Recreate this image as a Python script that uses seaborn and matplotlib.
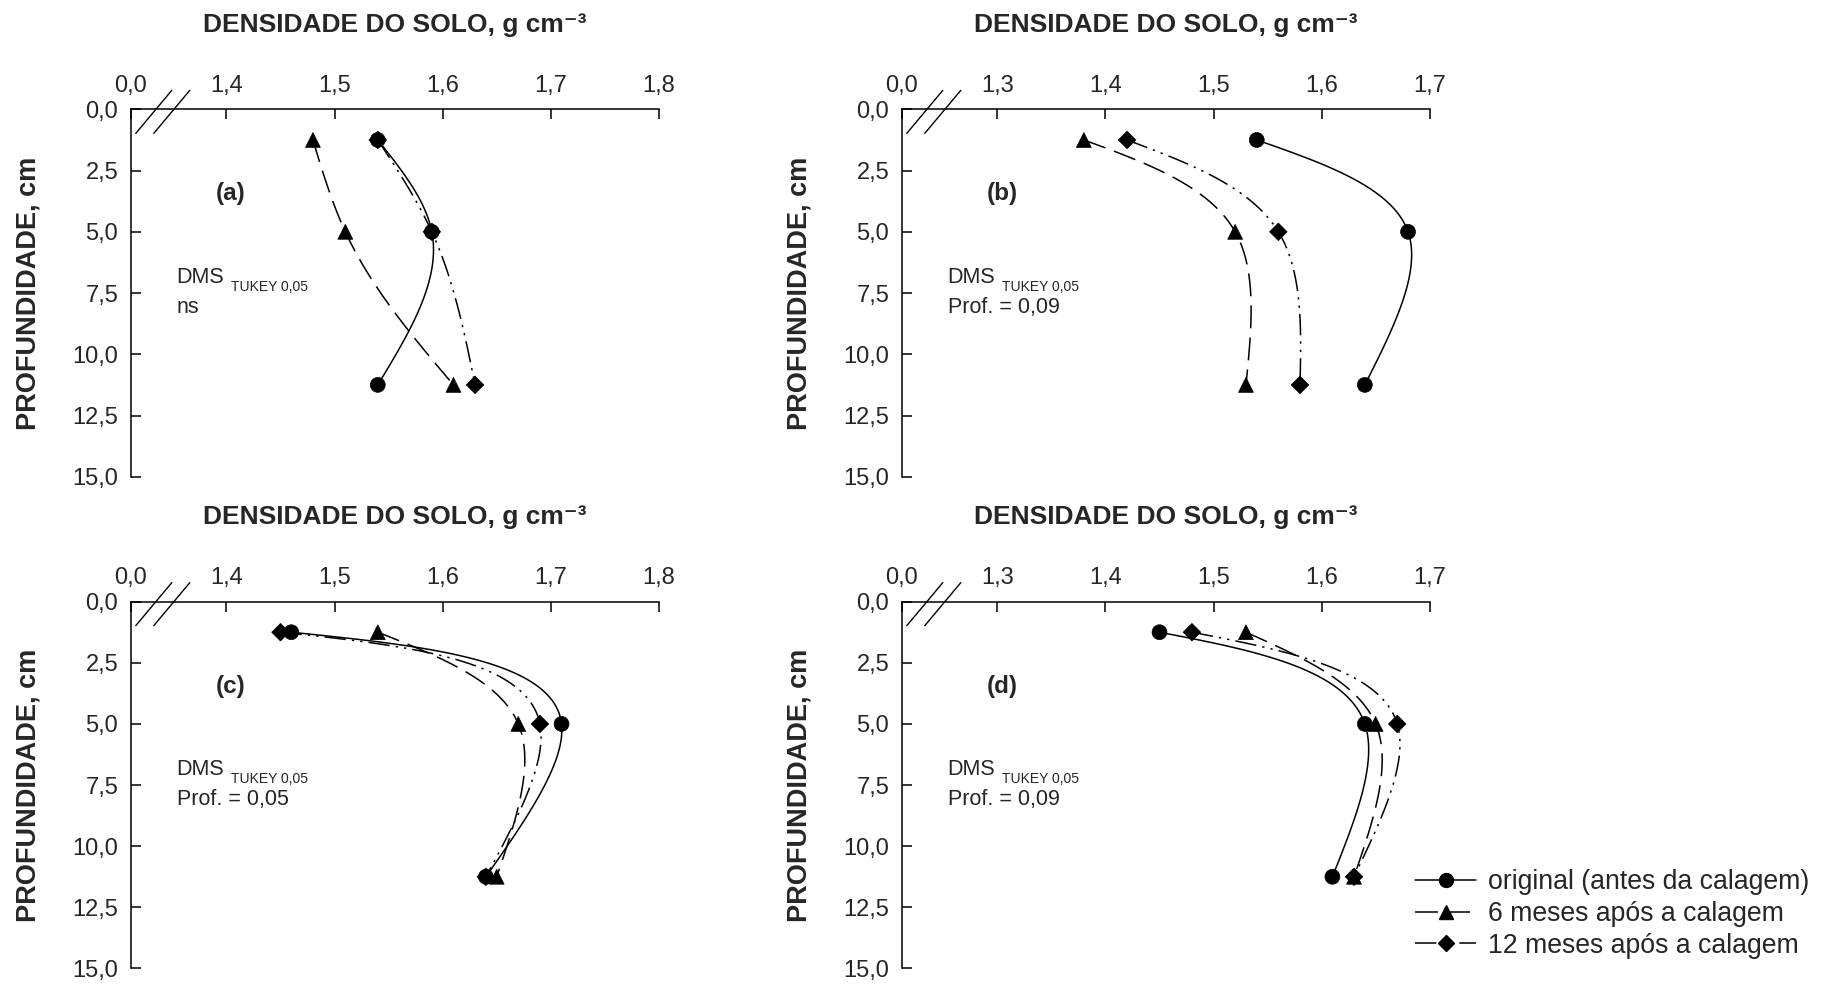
import numpy as np
import pandas as pd
import matplotlib
matplotlib.use("Agg")
import matplotlib.pyplot as plt
import seaborn as sns
from matplotlib.lines import Line2D

# profundidade (cm), centro das camadas
depth = [1.25, 5.0, 11.25]

series = ["original (antes da calagem)", "6 meses após a calagem", "12 meses após a calagem"]

# densidade do solo, g cm-3
a_orig = [1.54, 1.59, 1.54]
a_6m = [1.48, 1.51, 1.61]
a_12m = [1.54, 1.59, 1.63]

b_orig = [1.54, 1.68, 1.64]
b_6m = [1.38, 1.52, 1.53]
b_12m = [1.42, 1.56, 1.58]

c_orig = [1.46, 1.71, 1.64]
c_6m = [1.54, 1.67, 1.65]
c_12m = [1.45, 1.69, 1.64]

d_orig = [1.45, 1.64, 1.61]
d_6m = [1.53, 1.65, 1.63]
d_12m = [1.48, 1.67, 1.63]

xticks_ac = [1.4, 1.5, 1.6, 1.7, 1.8]
xticks_bd = [1.3, 1.4, 1.5, 1.6, 1.7]
yticks = [0, 2.5, 5, 7.5, 10, 12.5, 15]
panel_names = ["(a)", "(b)", "(c)", "(d)"]
dms_notes = ["ns", "Prof. = 0,09", "Prof. = 0,05", "Prof. = 0,09"]

sns.set_style("ticks")
plt.rcParams["font.family"] = ["Liberation Sans", "DejaVu Sans"]

styles = {
    series[0]: dict(marker="o", ls="-", ms=10),
    series[1]: dict(marker="^", ls=(0, (15, 6)), ms=10),
    series[2]: dict(marker="D", ls=(0, (14, 4, 1.5, 4, 1.5, 4)), ms=8),
}


def natural_spline(t, v, n=60):
    # natural cubic spline of v over parameter t, evaluated densely on each segment
    h = np.diff(t)
    k = len(t)
    A = np.zeros((k, k))
    r = np.zeros(k)
    A[0, 0] = A[-1, -1] = 1
    for i in range(1, k - 1):
        A[i, i - 1] = h[i - 1]
        A[i, i] = 2 * (h[i - 1] + h[i])
        A[i, i + 1] = h[i]
        r[i] = 6 * ((v[i + 1] - v[i]) / h[i] - (v[i] - v[i - 1]) / h[i - 1])
    M = np.linalg.solve(A, r)
    out = []
    for i in range(k - 1):
        tt = np.linspace(t[i], t[i + 1], n)
        a = t[i + 1] - tt
        b = tt - t[i]
        out.append((M[i] * a**3 + M[i + 1] * b**3) / (6 * h[i])
                   + (v[i] / h[i] - M[i] * h[i] / 6) * a
                   + (v[i + 1] / h[i] - M[i + 1] * h[i] / 6) * b)
    return np.concatenate(out)


def spline_line(ax, xv, yv):
    # parametric spline through the points in screen space (SigmaPlot-like spline line)
    pts = ax.transData.transform(np.column_stack([xv, yv]))
    t = np.concatenate([[0], np.cumsum(np.hypot(*np.diff(pts, axis=0).T))])
    sx = natural_spline(t, pts[:, 0])
    sy = natural_spline(t, pts[:, 1])
    curve = ax.transData.inverted().transform(np.column_stack([sx, sy]))
    return curve[:, 0], curve[:, 1]


fig = plt.figure(figsize=(18.24, 9.86), dpi=100)
positions = [
    [0.0717, 0.5165, 0.2895, 0.3726],
    [0.4944, 0.5165, 0.2894, 0.3726],
    [0.0717, 0.0178, 0.2895, 0.3720],
    [0.4944, 0.0178, 0.2894, 0.3720],
]
panels = [
    (a_orig, a_6m, a_12m, xticks_ac),
    (b_orig, b_6m, b_12m, xticks_bd),
    (c_orig, c_6m, c_12m, xticks_ac),
    (d_orig, d_6m, d_12m, xticks_bd),
]

for i, (pos, (o, m6, m12, xt)) in enumerate(zip(positions, panels)):
    ax = fig.add_axes(pos)
    xmin = xt[0] - 0.0885
    ax.set_xlim(xmin, xt[-1])
    ax.set_ylim(15, 0)

    df = pd.DataFrame({
        "dens": o + m6 + m12,
        "prof": depth * 3,
        "serie": [series[0]] * 3 + [series[1]] * 3 + [series[2]] * 3,
    })
    # smooth lines
    for s in series[::-1]:
        sub = df[df["serie"] == s]
        xs, ys = spline_line(ax, sub["dens"].values, sub["prof"].values)
        ax.plot(xs, ys, color="black", lw=1.1, ls=styles[s]["ls"], zorder=2)
    # markers
    sns.scatterplot(data=df.iloc[::-1], x="dens", y="prof", style="serie",
                    markers={s: styles[s]["marker"] for s in series},
                    size="serie", sizes={series[0]: 115, series[1]: 115, series[2]: 80},
                    color="black", edgecolor="black", linewidth=0.5,
                    legend=False, ax=ax, zorder=3)
    ax.set_xlim(xmin, xt[-1])
    ax.set_ylim(15, 0)

    ax.set_xticks([xmin] + xt)
    ax.set_xticklabels(["0,0"] + [f"{v:.1f}".replace(".", ",") for v in xt])
    ax.set_yticks(yticks)
    ax.set_yticklabels([f"{v:.1f}".replace(".", ",") for v in yticks])
    ax.xaxis.tick_top()
    ax.tick_params(axis="both", direction="in", length=7, width=1.1,
                   labelsize=17, pad=9, color="black")
    for sp in ["bottom", "right"]:
        ax.spines[sp].set_visible(False)
    for sp in ["top", "left"]:
        ax.spines[sp].set_linewidth(1.1)
        ax.spines[sp].set_color("black")
    ax.set_xlabel("")
    ax.set_ylabel("PROFUNDIDADE, cm", fontsize=19.5, fontweight="bold")
    ax.yaxis.set_label_coords(-0.17, 0.5)

    # axis break marks
    w = pos[2] * 1824
    hgt = pos[3] * 986
    for off in [0, 18]:
        ax.plot([(5 + off) / w, (41 + off) / w], [1 - 24 / hgt, 1 + 19 / hgt],
                transform=ax.transAxes, color="black", lw=1.0, clip_on=False)

    ax.text(0.5, 1.23, "DENSIDADE DO SOLO, g cm\u207b\u00b3", transform=ax.transAxes,
            ha="center", va="center", fontsize=19, fontweight="bold")
    ax.text(0.19, 0.77, panel_names[i], transform=ax.transAxes, ha="center", va="center",
            fontsize=17.5, fontweight="bold")
    ax.text(0.087, 0.527, "DMS", transform=ax.transAxes, ha="left", va="baseline", fontsize=15.5)
    ax.text(0.19, 0.506, "TUKEY 0,05", transform=ax.transAxes, ha="left", va="baseline", fontsize=10)
    ax.text(0.087, 0.445, dms_notes[i], transform=ax.transAxes, ha="left", va="baseline", fontsize=15.5)

handles = [Line2D([], [], color="black", lw=1.1, ls=styles[s]["ls"], marker=styles[s]["marker"],
                  ms=styles[s]["ms"], markerfacecolor="black") for s in series]
fig.legend(handles, series, loc="upper left", bbox_to_anchor=(1415 / 1824, 1 - 869 / 986),
           bbox_transform=fig.transFigure, frameon=False, fontsize=19.2, handlelength=2.3,
           handletextpad=0.42, labelspacing=0.22, borderpad=0, borderaxespad=0)

plt.savefig("out.png", dpi=100)
